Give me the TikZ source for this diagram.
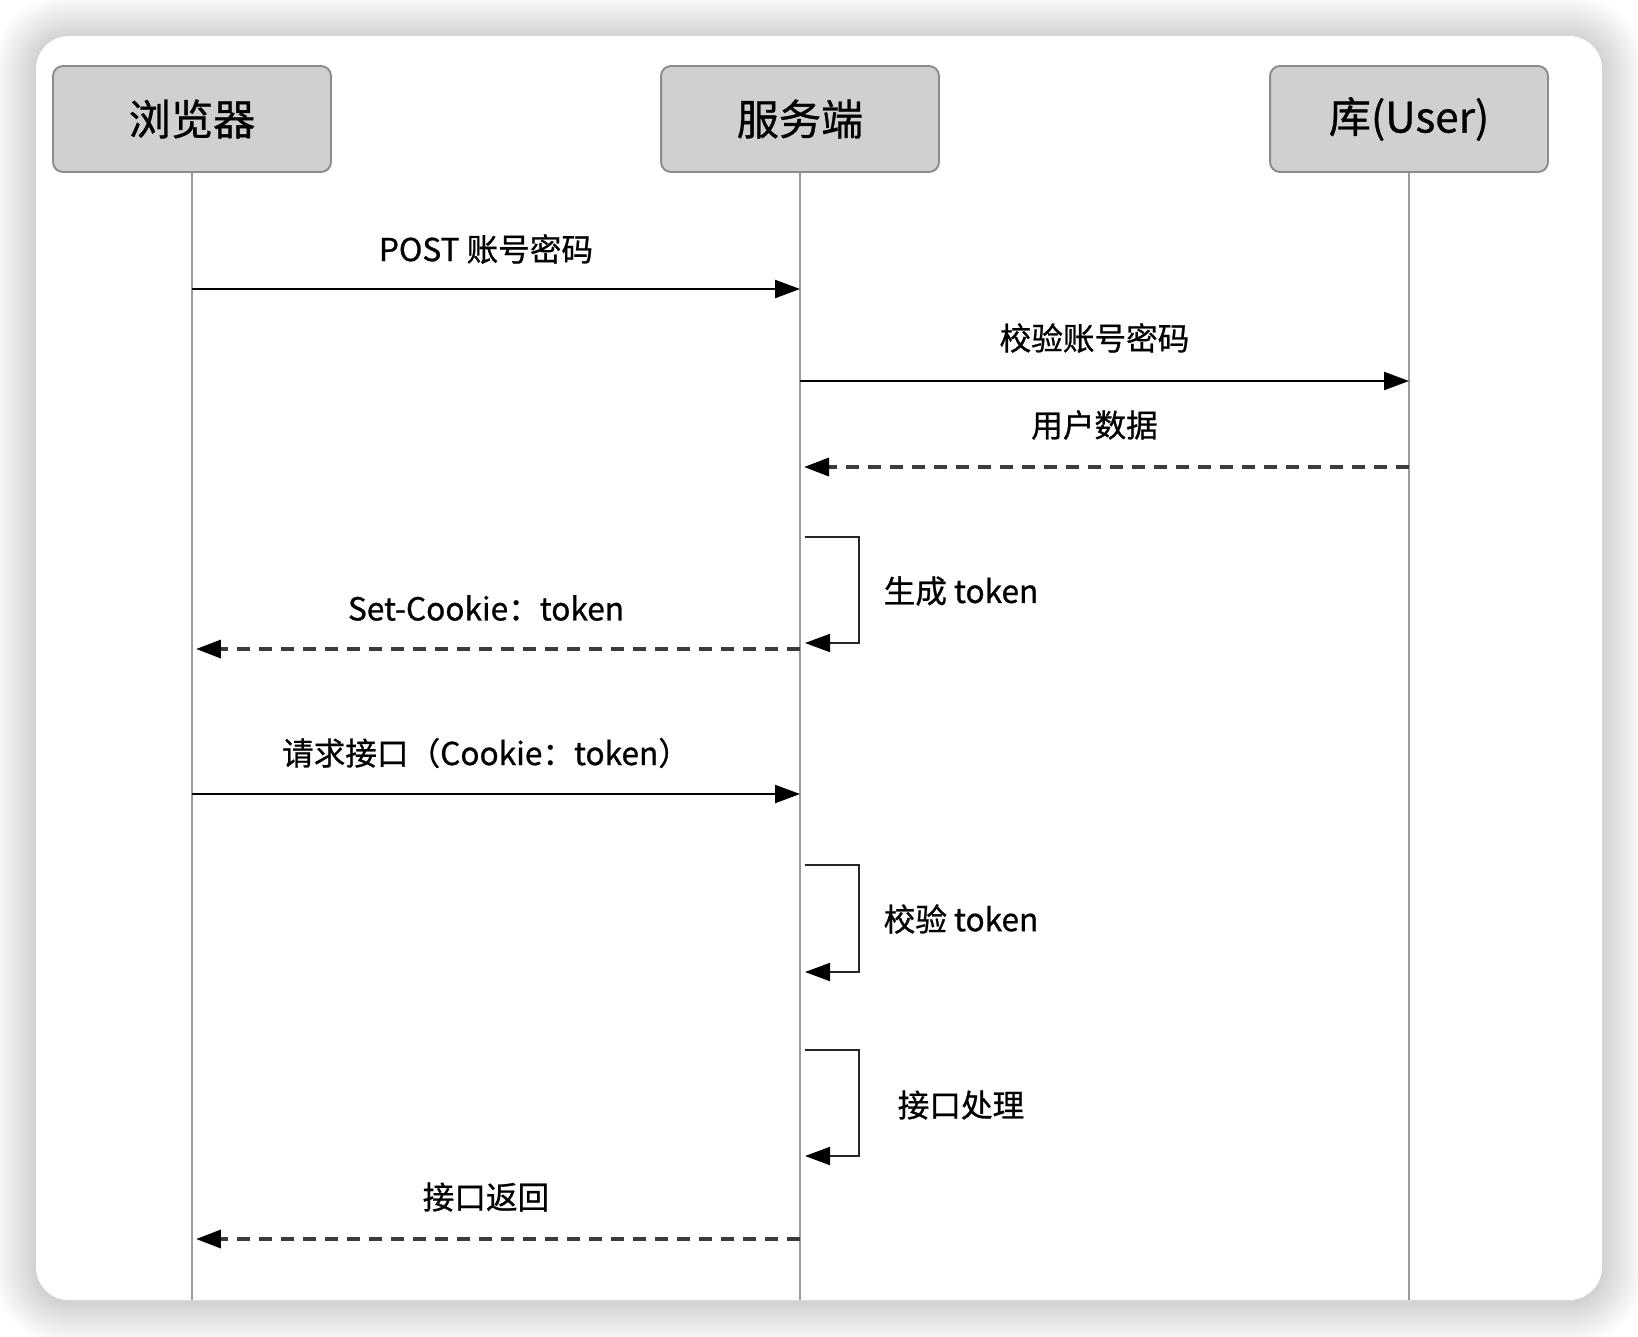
\documentclass[tikz,border=0pt]{standalone}
\usepackage{fontspec}
\setmainfont[FakeBold=0.8]{Noto Sans CJK SC}
\usetikzlibrary{arrows.meta}
\definecolor{boxfill}{HTML}{D0D0D0}
\definecolor{boxline}{HTML}{8C8C8C}
\definecolor{lifegray}{HTML}{9A9A9A}
\definecolor{dashgray}{HTML}{3C3C3C}
\begin{document}
\begin{tikzpicture}[
    x=0.02cm, y=-0.02cm,
    actor/.style={draw=boxline, fill=boxfill, line width=1.1pt, rounded corners=0.2cm,
        minimum width=5.56cm, minimum height=2.12cm, font=\fontsize{24pt}{28pt}\selectfont},
    life/.style={draw=lifegray, line width=1.1pt},
    msg/.style={line width=1.3pt, -{Triangle[length=0.5cm, width=0.36cm, color=black]}},
    reply/.style={msg, draw=dashgray, line width=2pt, dash pattern=on 0.26cm off 0.18cm,
        shorten >=0.08cm},
    selfloop/.style={line width=1.1pt, draw=black!85,
        -{Triangle[length=0.5cm, width=0.36cm, color=black]}},
    lbl/.style={font=\fontsize{18pt}{22pt}\selectfont, inner sep=0pt}
    ]
    \useasboundingbox (0,0) rectangle (1638,1336);
    \fill[white] (0,0) rectangle (1638,1336);
    % card with soft shadow
    \foreach \i in {1,...,22}
        \fill[black, opacity=0.007, rounded corners=\i*0.04cm+0.66cm]
            (36-\i*2,38-\i*2) rectangle (1602+\i*2,1302+\i*2);
    \fill[white, rounded corners=0.66cm] (36,36) rectangle (1602,1300) node[opacity=0] (card) {};

    % participants
    \node[actor] (browser) at (192,119) {浏览器};
    \node[actor] (server) at (800,119) {服务端};
    \node[actor] (db) at (1409,119) {库(User)};

    \coordinate (bottom) at (0,1300);
    \draw[life] (browser) -- (browser |- bottom);
    \draw[life] (server) -- (server |- bottom);
    \draw[life] (db) -- (db |- bottom);

    % message rows
    \coordinate (m1) at (0,289);
    \coordinate (m2) at (0,381);
    \coordinate (m3) at (0,467);
    \coordinate (m4) at (0,649);
    \coordinate (m5) at (0,794);
    \coordinate (m6) at (0,1239);
    \coordinate (s1) at (0,537);
    \coordinate (s2) at (0,865);
    \coordinate (s3) at (0,1050);

    \draw[msg] (browser |- m1) -- (server |- m1)
        node[lbl, midway, xshift=-0.2cm, yshift=0.8cm] (t1) {POST 账号密码};
    \draw[msg] (server |- m2) -- (db |- m2)
        node[lbl, midway, xshift=-0.2cm, yshift=0.86cm] (t2) {校验账号密码};
    \draw[reply] (db |- m3) -- (server |- m3)
        node[lbl, midway, xshift=-0.2cm, yshift=0.84cm] (t3) {用户数据};

    \draw[selfloop] (server |- s1) ++(5,0) -- ++(54,0) -- ++(0,106) -- ++(-54,0);
    \node[lbl] (t4) at (961,591) {生成 token};

    \draw[reply] (server |- m4) -- (browser |- m4)
        node[lbl, midway, xshift=-0.2cm, yshift=0.82cm] (t5) {Set-Cookie：token};
    \draw[msg] (browser |- m5) -- (server |- m5)
        node[lbl, midway, xshift=-0.2cm, yshift=0.82cm] (t6) {请求接口（Cookie：token）};

    \draw[selfloop] (server |- s2) ++(5,0) -- ++(54,0) -- ++(0,107) -- ++(-54,0);
    \node[lbl] (t7) at (961,919) {校验 token};

    \draw[selfloop] (server |- s3) ++(5,0) -- ++(54,0) -- ++(0,106) -- ++(-54,0);
    \node[lbl] (t8) at (961,1105) {接口处理};

    \draw[reply] (server |- m6) -- (browser |- m6)
        node[lbl, midway, xshift=-0.2cm, yshift=0.84cm] (t9) {接口返回};
\end{tikzpicture}
\end{document}
